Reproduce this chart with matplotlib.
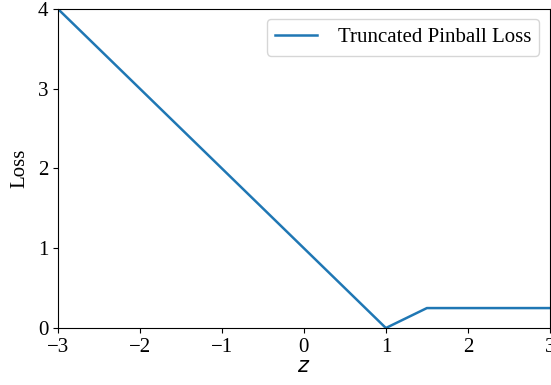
import numpy as np
import matplotlib.pyplot as plt

plt.rcParams['font.family'] = ['Liberation Serif', 'DejaVu Serif']
plt.rcParams['font.size'] = 15

z = [-3, 1, 1.5, 3]
loss = [4, 0, 0.25, 0.25]

fig = plt.figure(figsize=(5.51, 3.85), dpi=100)
ax = fig.add_axes([0.105, 0.148, 0.893, 0.829])
ax.plot(z, loss, color='#1f77b4', linewidth=1.8, label='Truncated Pinball Loss')
ax.set_xlim(-3, 3)
ax.set_ylim(0, 4)
ax.set_xticks([-3, -2, -1, 0, 1, 2, 3])
ax.set_yticks([0, 1, 2, 3, 4])
ax.set_xlabel('$z$', labelpad=1)
ax.set_ylabel('Loss', labelpad=6)
ax.legend(loc='upper right', handletextpad=1.0)
fig.savefig('out.png', dpi=100)
